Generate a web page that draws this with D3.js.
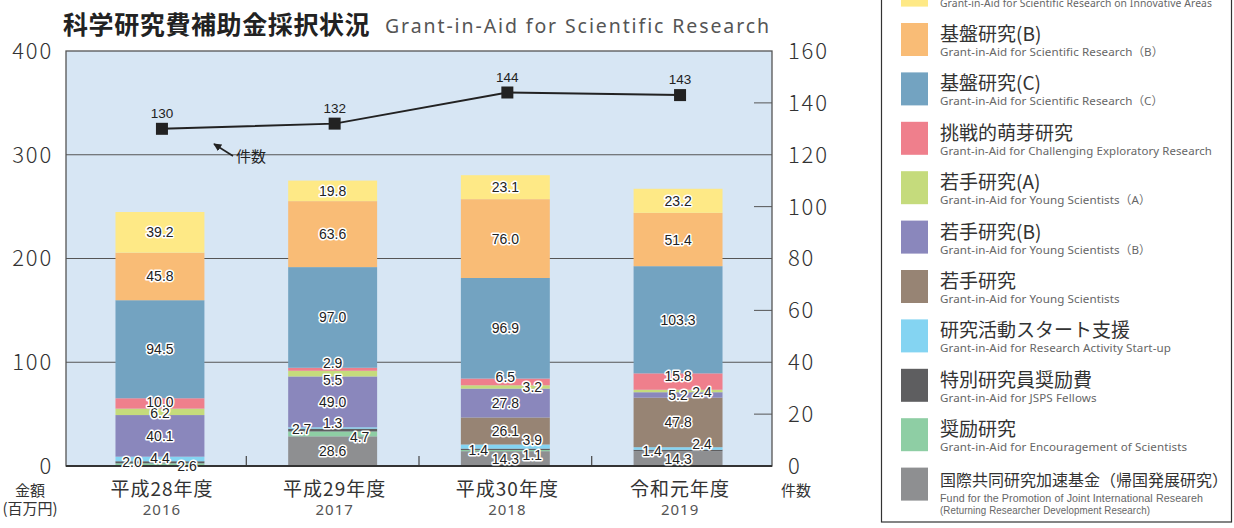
<!DOCTYPE html>
<html lang="ja">
    <head>
        <meta charset="utf-8">
        <title>科学研究費補助金採択状況</title>
        <script src="https://d3js.org/d3.v7.min.js"></script>
        <style type="text/css">
            body { margin: 0; background: #fff; }
            svg { display: block; font-family: "Noto Sans CJK JP", "Noto Sans", sans-serif; }
            .num { font-family: "Noto Sans CJK JP", sans-serif; font-weight: 300; font-size: 22px; fill: #333; letter-spacing: 1.8px; }
            .seg-label {
                font-family: "Liberation Sans", Arial, sans-serif;
                font-size: 14px;
                fill: #222;
                stroke: #fff;
                stroke-width: 3px;
                paint-order: stroke;
                stroke-linejoin: round;
                text-anchor: middle;
            }
            .count-label { font-family: "Liberation Sans", Arial, sans-serif; font-size: 13.5px; fill: #222; text-anchor: middle; }
            .leg-ja { font-size: 19px; fill: #333; }
            .leg-en { font-family: "Noto Sans", "Noto Sans CJK JP", sans-serif; font-size: 11.6px; fill: #666; letter-spacing: 0.1px; }
        </style>
    </head>
    <body>
        <script type="text/javascript">

            const w = 1234;
            const h = 528;

            // data
            const years = ["2016", "2017", "2018", "2019"];
            const eras = ["平成28年度", "平成29年度", "平成30年度", "令和元年度"];
            const counts = [130, 132, 144, 143];

            // stack order, bottom to top
            const seriesKeys = ["kokusai", "shorei", "tokubetsu", "start", "wakate", "wakateB", "wakateA", "houga", "kibanC", "kibanB", "shingaku"];
            const kokusai   = [0, 28.6, 14.3, 14.3];
            const shorei    = [2.6, 4.7, 1.1, 0];
            const tokubetsu = [2.0, 2.7, 1.4, 1.4];
            const start     = [4.4, 1.3, 3.9, 2.4];
            const wakate    = [0, 0, 26.1, 47.8];
            const wakateB   = [40.1, 49.0, 27.8, 5.2];
            const wakateA   = [6.2, 5.5, 3.2, 2.4];
            const houga     = [10.0, 2.9, 6.5, 15.8];
            const kibanC    = [94.5, 97.0, 96.9, 103.3];
            const kibanB    = [45.8, 63.6, 76.0, 51.4];
            const shingaku  = [39.2, 19.8, 23.1, 23.2];

            const seriesJa = ["国際共同研究加速基金（帰国発展研究）", "奨励研究", "特別研究員奨励費", "研究活動スタート支援", "若手研究", "若手研究(B)", "若手研究(A)", "挑戦的萌芽研究", "基盤研究(C)", "基盤研究(B)", "新学術領域研究"];
            const seriesEn = [
                "Fund for the Promotion of Joint International Researeh",
                "Grant-in-Aid for Encouragement of Scientists",
                "Grant-in-Aid for JSPS Fellows",
                "Grant-in-Aid for Research Activity Start-up",
                "Grant-in-Aid for Young Scientists",
                "Grant-in-Aid for Young Scientists（B）",
                "Grant-in-Aid for Young Scientists（A）",
                "Grant-in-Aid for Challenging Exploratory Research",
                "Grant-in-Aid for Scientific Research（C）",
                "Grant-in-Aid for Scientific Research（B）",
                "Grant-in-Aid for Scientific Research on Innovative Areas"
            ];
            const seriesEn2 = "(Returning Researcher Development Research)";

            const amountTicks = [0, 100, 200, 300, 400];
            const countTicks = [0, 20, 40, 60, 80, 100, 120, 140, 160];

            // styles
            const colors = ["#8e8f91", "#8ecea4", "#5e5e60", "#84d4f2", "#978474", "#8a87bc", "#c5db7c", "#ef7f8c", "#73a3c1", "#f9bc76", "#fee986"];

            // label nudges for thin segments (dx, dy)
            const nudge = {
                "tokubetsu-2016": [-28, 0], "start-2016": [0, -1], "shorei-2016": [27, 1],
                "wakateA-2016": [0, 1], "houga-2016": [0, -1],
                "houga-2017": [0, -6], "wakateA-2017": [0, 6], "start-2017": [0, -5], "tokubetsu-2017": [-31, -1], "shorei-2017": [27, 3],
                "houga-2018": [0, -5], "wakateA-2018": [27, 0], "start-2018": [27, -7], "tokubetsu-2018": [-27, 1], "shorei-2018": [27, 4],
                "houga-2019": [0, -6], "wakateA-2019": [24, 1], "start-2019": [24, -5], "tokubetsu-2019": [-26, 1]
            };

            const valuesByKey = { kokusai, shorei, tokubetsu, start, wakate, wakateB, wakateA, houga, kibanC, kibanB, shingaku };
            const table = years.map((y, i) => {
                const row = { year: y };
                seriesKeys.forEach(k => row[k] = valuesByKey[k][i]);
                return row;
            });

            const plot = { left: 66, right: 772, top: 51, bottom: 466 };

            const xScale = d3.scaleBand().domain(years).range([plot.left, plot.right]).paddingInner(0.485).paddingOuter(0.2865);
            const yScale = d3.scaleLinear().domain([0, 400]).range([plot.bottom, plot.top]);
            const yCount = d3.scaleLinear().domain([0, 160]).range([plot.bottom, plot.top]);

            const svg = d3.select("body").append("svg").attr("width", w).attr("height", h);

            // title
            svg.append("text").attr("x", 63).attr("y", 34)
                .style("font-size", "25px").style("font-weight", "bold").style("fill", "#222").style("letter-spacing", "0.6px")
                .text("科学研究費補助金採択状況");
            svg.append("text").attr("x", 385).attr("y", 33)
                .style("font-family", "'Noto Sans', sans-serif").style("font-size", "19.5px").style("fill", "#555").style("letter-spacing", "1.9px")
                .text("Grant-in-Aid for Scientific Research");

            // plot background
            svg.append("rect").attr("x", plot.left).attr("y", plot.top)
                .attr("width", plot.right - plot.left).attr("height", plot.bottom - plot.top)
                .style("fill", "#d7e6f4");

            // gridlines
            svg.append("g").selectAll("line").data(amountTicks.filter(t => t > 0 && t < 400)).enter().append("line")
                .attr("x1", plot.left).attr("x2", plot.right)
                .attr("y1", d => yScale(d)).attr("y2", d => yScale(d))
                .style("stroke", "#555").style("stroke-width", 1);

            // short ticks on the right for count axis
            svg.append("g").selectAll("line").data(countTicks.filter(t => t % 40 === 20)).enter().append("line")
                .attr("x1", plot.right - 18).attr("x2", plot.right)
                .attr("y1", d => yCount(d)).attr("y2", d => yCount(d))
                .style("stroke", "#555").style("stroke-width", 1);

            // separators between categories on the bottom
            const seps = years.slice(1).map((y, i) => (xScale(years[i]) + xScale.bandwidth() + xScale(y)) / 2);
            svg.append("g").selectAll("line").data(seps).enter().append("line")
                .attr("x1", d => d).attr("x2", d => d)
                .attr("y1", plot.bottom).attr("y2", plot.bottom - 10)
                .style("stroke", "#444").style("stroke-width", 1.2);

            // stacked bars
            const stack = d3.stack().keys(seriesKeys);
            const layers = stack(table);

            const layerG = svg.append("g").selectAll("g").data(layers).enter().append("g")
                .style("fill", (d, i) => colors[i]);
            layerG.selectAll("rect").data(d => d).enter().append("rect")
                .attr("x", d => xScale(d.data.year))
                .attr("width", xScale.bandwidth())
                .attr("y", d => yScale(d[1]))
                .attr("height", d => yScale(d[0]) - yScale(d[1]));

            // plot frame
            svg.append("rect").attr("x", plot.left).attr("y", plot.top)
                .attr("width", plot.right - plot.left).attr("height", plot.bottom - plot.top)
                .style("fill", "none").style("stroke", "#555").style("stroke-width", 1.3);
            svg.append("line").attr("x1", plot.left).attr("x2", plot.right)
                .attr("y1", plot.bottom).attr("y2", plot.bottom)
                .style("stroke", "#333").style("stroke-width", 1.8);

            // segment labels
            const segLabels = [];
            layers.forEach(layer => {
                layer.forEach(d => {
                    const v = d[1] - d[0];
                    if (v <= 0) return;
                    const key = layer.key + "-" + d.data.year;
                    const n = nudge[key] || [0, 0];
                    segLabels.push({ v, x: xScale(d.data.year) + xScale.bandwidth() / 2 + n[0], y: yScale((d[0] + d[1]) / 2) + n[1] });
                });
            });
            svg.append("g").selectAll("text").data(segLabels).enter().append("text")
                .attr("class", "seg-label")
                .attr("x", d => d.x).attr("y", d => d.y).attr("dy", "0.36em")
                .text(d => d.v.toFixed(1));

            // count line
            const cx = d => xScale(d) + xScale.bandwidth() / 2 + 2;
            const line = d3.line().x((d, i) => cx(years[i])).y(d => yCount(d));
            svg.append("path").datum(counts).attr("d", line)
                .style("fill", "none").style("stroke", "#222").style("stroke-width", 2);
            svg.append("g").selectAll("rect").data(counts).enter().append("rect")
                .attr("x", (d, i) => cx(years[i]) - 6).attr("y", d => yCount(d) - 6)
                .attr("width", 12).attr("height", 12).style("fill", "#222");
            svg.append("g").selectAll("text").data(counts).enter().append("text")
                .attr("class", "count-label")
                .attr("x", (d, i) => cx(years[i])).attr("y", d => yCount(d) - 11)
                .text(d => d);

            // 件数 annotation
            svg.append("defs").append("marker").attr("id", "arrow")
                .attr("viewBox", "0 0 10 10").attr("refX", 9).attr("refY", 5)
                .attr("markerWidth", 5).attr("markerHeight", 5).attr("orient", "auto")
                .append("path").attr("d", "M0,0 L10,5 L0,10 z").style("fill", "#222");
            svg.append("line").attr("x1", 233).attr("y1", 156).attr("x2", 214).attr("y2", 144)
                .style("stroke", "#222").style("stroke-width", 1.6).attr("marker-end", "url(#arrow)");
            svg.append("text").attr("x", 236).attr("y", 162)
                .style("font-size", "15px").style("fill", "#222").text("件数");

            // left axis labels
            svg.append("g").selectAll("text").data(amountTicks).enter().append("text")
                .attr("class", "num").attr("x", 53).attr("y", d => yScale(d)).attr("dy", "0.36em")
                .style("text-anchor", "end").text(d => d);
            // right axis labels
            svg.append("g").selectAll("text").data(countTicks).enter().append("text")
                .attr("class", "num").attr("x", 788).attr("y", d => yCount(d)).attr("dy", "0.36em")
                .text(d => d);

            // unit labels
            svg.append("text").attr("x", 30).attr("y", 496).style("font-size", "15px").style("fill", "#333")
                .style("text-anchor", "middle").text("金額");
            svg.append("text").attr("x", 30).attr("y", 514).style("font-size", "15px").style("fill", "#333")
                .style("text-anchor", "middle").text("(百万円)");
            svg.append("text").attr("x", 796).attr("y", 496).style("font-size", "15px").style("fill", "#333")
                .style("text-anchor", "middle").text("件数");

            // category labels
            const catG = svg.append("g").selectAll("g").data(years).enter().append("g")
                .attr("transform", d => `translate(${xScale(d) + xScale.bandwidth() / 2 + 2},0)`);
            catG.append("text").attr("y", 496).style("text-anchor", "middle")
                .style("font-size", "19px").style("fill", "#333").style("letter-spacing", "1px")
                .text((d, i) => eras[i]);
            catG.append("text").attr("y", 515).style("text-anchor", "middle")
                .style("font-family", "'Noto Sans', sans-serif").style("font-size", "15px").style("fill", "#555").style("letter-spacing", "1px")
                .text(d => d);

            // legend
            svg.append("rect").attr("x", 881.5).attr("y", -10).attr("width", 350).attr("height", 532)
                .style("fill", "#fff").style("stroke", "#333").style("stroke-width", 1.2);
            const legOrder = d3.range(seriesKeys.length).reverse();
            const leg = svg.append("g").selectAll("g").data(legOrder).enter().append("g")
                .attr("transform", (d, i) => `translate(901,${-26.4 + i * 49.4})`);
            leg.append("rect").attr("width", 27).attr("height", 33).style("fill", d => colors[d]);
            leg.append("text").attr("class", "leg-ja").attr("x", 39).attr("y", 18)
                .style("font-size", d => d === 0 ? "16px" : null)
                .text(d => seriesJa[d]);
            leg.filter(d => d !== 0).append("text").attr("class", "leg-en").attr("x", 39).attr("y", 33)
                .text(d => seriesEn[d])
                .each(function () {
                    // keep long lines inside the legend box
                    if (this.getComputedTextLength() > 276) d3.select(this).attr("textLength", 272).attr("lengthAdjust", "spacingAndGlyphs");
                });
            const lastLeg = leg.filter(d => d === 0);
            lastLeg.append("text").attr("class", "leg-en").attr("x", 39).attr("y", 34)
                .style("font-family", "'Liberation Sans Narrow', 'Liberation Sans', sans-serif").style("font-size", "11px")
                .attr("textLength", 263).attr("lengthAdjust", "spacingAndGlyphs").text(seriesEn[0]);
            lastLeg.append("text").attr("class", "leg-en").attr("x", 39).attr("y", 46)
                .style("font-family", "'Liberation Sans Narrow', 'Liberation Sans', sans-serif").style("font-size", "11px")
                .attr("textLength", 210).attr("lengthAdjust", "spacingAndGlyphs").text(seriesEn2);

        </script>
    </body>
</html>
